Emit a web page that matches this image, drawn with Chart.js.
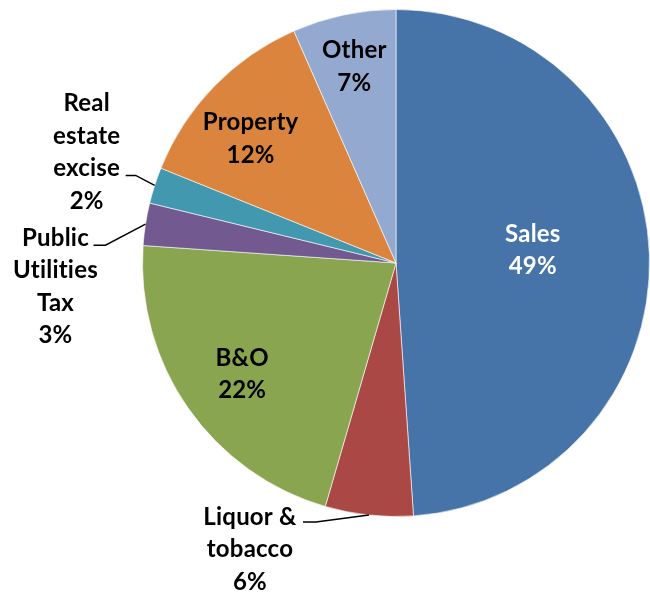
<!DOCTYPE html>
<html>
<head>
<meta charset="utf-8">
<script src="https://cdn.jsdelivr.net/npm/chart.js@4/dist/chart.umd.min.js"></script>
<style>
  html, body { margin: 0; padding: 0; background: #fff; }
  #wrap { width: 650px; height: 592px; }
</style>
</head>
<body>
<div id="wrap"><canvas id="myChart"></canvas></div>
<script>
// data
let categories = ['Sales', 'Liquor &\ntobacco', 'B&O', 'Public\nUtilities\nTax', 'Real\nestate\nexcise', 'Property', 'Other'];
let shares = [48.9, 5.6, 21.6, 2.7, 2.3, 12.3, 6.6];
let sliceColors = ['#4674A8', '#AA4845', '#89A550', '#72598F', '#4298AF', '#DB843D', '#93A9D0'];

// label placement: inside (fraction of radius + nudge) or outside with a leader line
let labelSpots = [
  { inside: 0.54, nudge: [0, -8], color: '#fff' },
  { elbow: [-53, 7], tail: 13, text: [-66, -5], line: 0 },
  { inside: 0.74, nudge: [0, 4] },
  { elbow: [-40, 21], tail: 12, text: [-50, -7], line: 0 },
  { elbow: [-19, -10], tail: 10, text: [-49, -7], line: 2 },
  { inside: 0.76, nudge: [-7, 10] },
  { inside: 0.8, nudge: [0, 2] }
];

const FONT = 'bold 24px Lato, "Liberation Sans", sans-serif';
const LINE_H = 32.5;

const pieLabels = {
  id: 'pieLabels',
  afterDatasetsDraw(chart) {
    let ctx = chart.ctx;
    let meta = chart.getDatasetMeta(0);
    let total = shares.reduce((a, b) => a + b, 0);
    ctx.save();
    ctx.font = FONT;
    // tiny spacing keeps Lato from joining "ti" into a ligature
    if ('letterSpacing' in ctx) ctx.letterSpacing = '0.2px';
    ctx.textAlign = 'center';
    ctx.textBaseline = 'middle';
    meta.data.forEach((arc, i) => {
      let spot = labelSpots[i];
      let lines = categories[i].split('\n');
      lines.push(Math.round(shares[i] / total * 100) + '%');
      let mid = (arc.startAngle + arc.endAngle) / 2;
      let cx, cy;
      if (spot.inside) {
        cx = arc.x + Math.cos(mid) * arc.outerRadius * spot.inside + spot.nudge[0];
        cy = arc.y + Math.sin(mid) * arc.outerRadius * spot.inside + spot.nudge[1];
        cy -= (lines.length - 1) * LINE_H / 2;
      } else {
        let ex = arc.x + Math.cos(mid) * arc.outerRadius;
        let ey = arc.y + Math.sin(mid) * arc.outerRadius;
        let bx = ex + spot.elbow[0], by = ey + spot.elbow[1];
        ctx.strokeStyle = '#000';
        ctx.lineWidth = 1.5;
        ctx.beginPath();
        ctx.moveTo(ex, ey);
        ctx.lineTo(bx, by);
        ctx.lineTo(bx - spot.tail, by);
        ctx.stroke();
        // text block placed so that line `spot.line` sits beside the leader
        cx = bx + spot.text[0];
        cy = by + spot.text[1] - spot.line * LINE_H;
      }
      ctx.fillStyle = spot.color || '#000';
      lines.forEach((t, k) => ctx.fillText(t, cx, cy + k * LINE_H));
    });
    ctx.restore();
  }
};

new Chart(document.getElementById('myChart'), {
  type: 'pie',
  data: {
    labels: categories,
    datasets: [{
      data: shares,
      backgroundColor: sliceColors,
      borderColor: 'rgba(255,255,255,0.6)',
      borderWidth: 1
    }]
  },
  options: {
    responsive: true,
    maintainAspectRatio: false,
    animation: false,
    layout: { padding: { left: 142, right: 0, top: 8, bottom: 74 } },
    plugins: {
      legend: { display: false },
      tooltip: { enabled: false }
    }
  },
  plugins: [pieLabels]
});
</script>
</body>
</html>
